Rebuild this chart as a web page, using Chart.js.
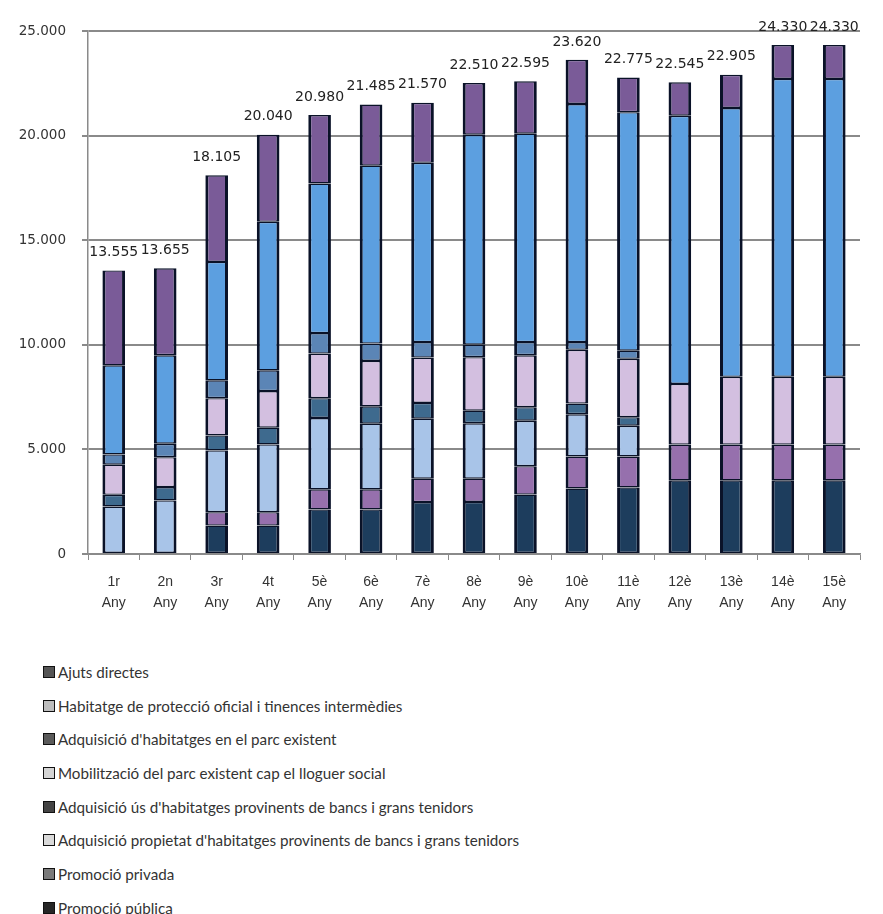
<!DOCTYPE html>
<html>
<head>
<meta charset="utf-8">
<script src="https://cdn.jsdelivr.net/npm/chart.js@4/dist/chart.umd.min.js"></script>
<style>
  html, body { margin: 0; padding: 0; background: #fff; }
  #wrap { position: relative; width: 883px; height: 914px; }
  #c { position: absolute; left: 0; top: 0; }
  #legend { position: absolute; left: 43px; top: 655px;
            font-family: 'Lato', 'Liberation Sans', sans-serif; font-size: 15.2px; color: #333; }
  .item { height: 33.7px; display: flex; align-items: center; white-space: nowrap; }
  .sw { width: 10px; height: 10px; border: 1px solid #111; margin-right: 3px; flex: none; }
</style>
</head>
<body>
<div id="wrap">
  <canvas id="c" width="883" height="620"></canvas>
  <div id="legend"></div>
</div>
<script>
// Anys del pla (etiqueta de dues línies)
const years = ['1r', '2n', '3r', '4t', '5è', '6è', '7è', '8è', '9è', '10è', '11è', '12è', '13è', '14è', '15è'];

// Habitatges per línia d'actuació i any
const promocioPublica   = [0, 0, 1360, 1360, 2130, 2130, 2480, 2490, 2840, 3130, 3180, 3520, 3520, 3520, 3520];
const promocioPrivada   = [0, 0, 640, 640, 960, 960, 1120, 1110, 1360, 1530, 1480, 1710, 1710, 1710, 1710];
const adqPropietatBancs = [2270, 2560, 2950, 3240, 3410, 3140, 2870, 2650, 2170, 2020, 1470, 0, 0, 0, 0];
const adqUsBancs        = [560, 640, 720, 800, 950, 830, 750, 600, 650, 510, 410, 0, 0, 0, 0];
const mobilitzacio      = [1440, 1430, 1780, 1750, 2130, 2170, 2170, 2560, 2480, 2570, 2790, 2900, 3240, 3240, 3240];
const adqParcExistent   = [490, 640, 850, 990, 980, 830, 740, 600, 630, 370, 390, 0, 0, 0, 0];
const hpoTinences       = [4260, 4230, 5660, 7100, 7150, 8500, 8570, 10030, 9960, 11380, 11400, 12820, 12850, 14240, 14240];
const ajutsDirectes     = [4535, 4155, 4145, 4160, 3270, 2925, 2870, 2470, 2505, 2110, 1655, 1595, 1585, 1620, 1620];

// Marques de l'eix vertical
const yTicks = [0, 5000, 10000, 15000, 20000, 25000];

const fmt = v => String(v).replace(/\B(?=(\d{3})+(?!\d))/g, '.');

// Sèries de baix a dalt de la pila
const series = [
  { label: 'Promoció pública', data: promocioPublica, color: '#1d3d5d', swatch: '#262626' },
  { label: 'Promoció privada', data: promocioPrivada, color: '#9670ad', swatch: '#7a7a7a' },
  { label: "Adquisició propietat d'habitatges provinents de bancs i grans tenidors", data: adqPropietatBancs, color: '#a8c4e8', swatch: '#dadada' },
  { label: "Adquisició ús d'habitatges provinents de bancs i grans tenidors", data: adqUsBancs, color: '#3e6a8e', swatch: '#444444' },
  { label: 'Mobilització del parc existent cap el lloguer social', data: mobilitzacio, color: '#d3bfe0', swatch: '#d4d4d4' },
  { label: "Adquisició d'habitatges en el parc existent", data: adqParcExistent, color: '#5b85b6', swatch: '#5a5a5a' },
  { label: 'Habitatge de protecció oficial i tinences intermèdies', data: hpoTinences, color: '#5c9fe0', swatch: '#bdbdbd' },
  { label: 'Ajuts directes', data: ajutsDirectes, color: '#7a5b98', swatch: '#555555' }
];

// Totals damunt de cada columna
const totalLabels = {
  id: 'totalLabels',
  afterDatasetsDraw(chart) {
    const ctx = chart.ctx;
    const y = chart.scales.y;
    const top = chart.getDatasetMeta(chart.data.datasets.length - 1);
    ctx.save();
    ctx.font = '14px "DejaVu Sans", Verdana, sans-serif';
    ctx.fillStyle = '#222';
    ctx.textAlign = 'center';
    ctx.textBaseline = 'middle';
    years.forEach((_, i) => {
      const total = chart.data.datasets.reduce((s, d) => s + (d.data[i] || 0), 0);
      ctx.fillText(fmt(total), top.data[i].x, y.getPixelForValue(total) - 18);
    });
    ctx.restore();
  }
};

const chart = new Chart(document.getElementById('c'), {
  type: 'bar',
  data: {
    labels: years.map(a => [a, 'Any']),
    datasets: series.map(s => ({
      label: s.label,
      data: s.data,
      backgroundColor: s.color,
      borderColor: '#0a1228',
      borderWidth: { top: 1.4, bottom: 1.4, left: 3, right: 3 },
      borderSkipped: false,
      barPercentage: 0.44,
      categoryPercentage: 1
    }))
  },
  options: {
    responsive: false,
    animation: false,
    layout: { padding: { top: 31, right: 23, left: 0, bottom: 0 } },
    plugins: { legend: { display: false }, tooltip: { enabled: false } },
    scales: {
      x: {
        stacked: true,
        grid: { offset: true, drawOnChartArea: false, drawTicks: true, tickLength: 6, color: '#8a8a8a' },
        border: { display: true, color: '#8a8a8a', width: 1.5 },
        ticks: { color: '#333', padding: 11, maxRotation: 0,
                 font: { family: "'Liberation Sans', Arial, sans-serif", size: 14, lineHeight: 1.55 } },
        afterFit(s) { s.height = 66; }
      },
      y: {
        stacked: true,
        min: 0, max: 25000,
        afterBuildTicks(s) { s.ticks = yTicks.map(v => ({ value: v })); },
        grid: { color: '#8a8a8a', lineWidth: 2, tickLength: 6 },
        border: { display: true, color: '#8a8a8a', width: 1.5 },
        ticks: { color: '#333', padding: 16, callback: v => fmt(v),
                 font: { family: "'DejaVu Sans', Verdana, sans-serif", size: 13.5 } },
        afterFit(s) { s.width = 88; }
      }
    }
  },
  plugins: [totalLabels]
});

// Llegenda en columna, de dalt a baix en ordre invers a la pila
const legend = document.getElementById('legend');
series.slice().reverse().forEach(s => {
  const row = document.createElement('div');
  row.className = 'item';
  const sw = document.createElement('span');
  sw.className = 'sw';
  sw.style.background = s.swatch;
  const tx = document.createElement('span');
  tx.textContent = s.label;
  row.appendChild(sw);
  row.appendChild(tx);
  legend.appendChild(row);
});
</script>
</body>
</html>
